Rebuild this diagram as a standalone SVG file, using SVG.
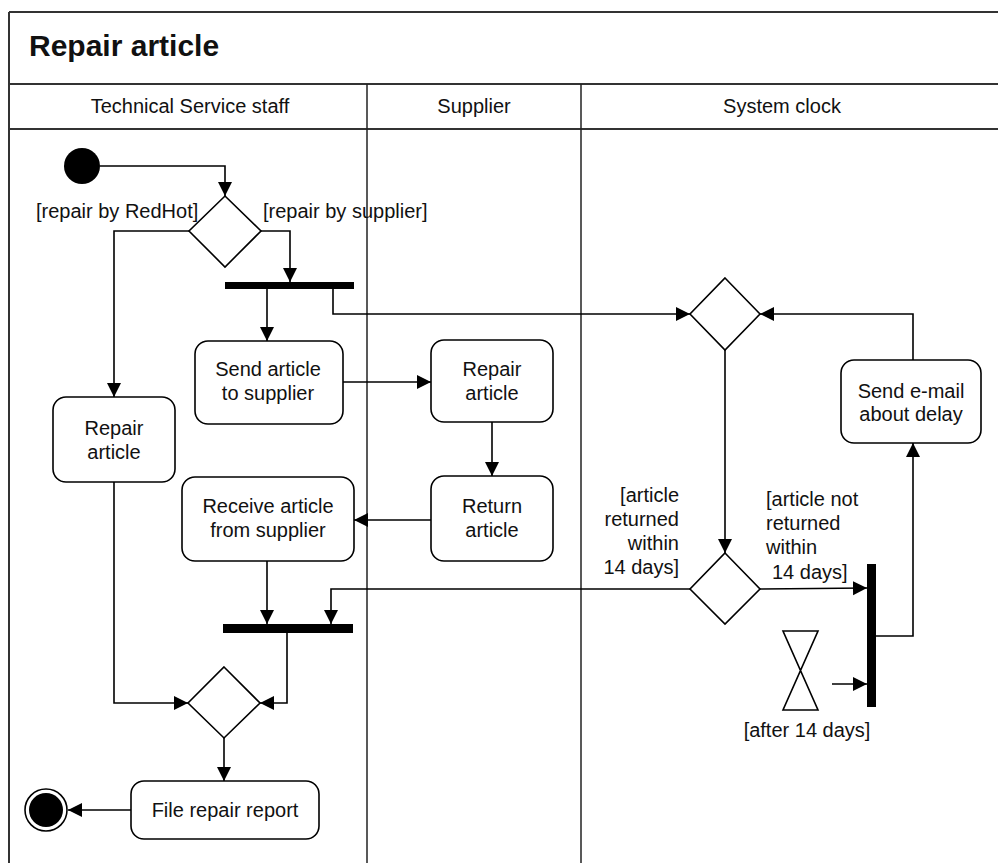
<svg xmlns="http://www.w3.org/2000/svg" width="998" height="863" viewBox="0 0 998 863">
<defs>
<marker id="arr" markerUnits="userSpaceOnUse" markerWidth="15" markerHeight="15" refX="14" refY="7" orient="auto">
<path d="M0,0 L14,7 L0,14 z" fill="#000"/>
</marker>
<style>
.frame{fill:none;stroke:#333;stroke-width:2}
.lane{fill:none;stroke:#222;stroke-width:1.5}
.act{fill:#fff;stroke:#000;stroke-width:1.6}
.dec{fill:#fff;stroke:#000;stroke-width:1.6}
.bar{fill:#000}
.edge{fill:none;stroke:#000;stroke-width:1.6}
.t{font-family:"Liberation Sans",Arial,sans-serif;font-size:20px;fill:#111}
.c{text-anchor:middle}
.title{font-family:"Liberation Sans",Arial,sans-serif;font-size:30px;font-weight:bold;fill:#111}
</style>
</defs>
<rect width="998" height="863" fill="#fff"/>
<g id="frame">
<line class="frame" x1="9" y1="12" x2="998" y2="12"/>
<line class="frame" x1="9" y1="12" x2="9" y2="863"/>
<line class="frame" x1="9" y1="84" x2="998" y2="84"/>
<line class="frame" x1="9" y1="129" x2="998" y2="129"/>
<line class="lane" x1="367" y1="84" x2="367" y2="863"/>
<line class="lane" x1="581" y1="84" x2="581" y2="863"/>
<text class="title" x="29" y="56">Repair article</text>
<text class="t c" x="190" y="113">Technical Service staff</text>
<text class="t c" x="474" y="113">Supplier</text>
<text class="t c" x="782" y="113">System clock</text>
</g>
<g id="connectors">
<path class="edge" d="M100,166 H225 V196" marker-end="url(#arr)"/>
<path class="edge" d="M189,231 H114 V397" marker-end="url(#arr)"/>
<path class="edge" d="M261,231 H290 V282" marker-end="url(#arr)"/>
<path class="edge" d="M267,289 V341" marker-end="url(#arr)"/>
<path class="edge" d="M333,289 V314 H690" marker-end="url(#arr)"/>
<path class="edge" d="M343,382 H431" marker-end="url(#arr)"/>
<path class="edge" d="M492,422 V476" marker-end="url(#arr)"/>
<path class="edge" d="M431,520 H354" marker-end="url(#arr)"/>
<path class="edge" d="M267,561 V624" marker-end="url(#arr)"/>
<path class="edge" d="M690,589 H331 V624" marker-end="url(#arr)"/>
<path class="edge" d="M287,633 V703 H260" marker-end="url(#arr)"/>
<path class="edge" d="M114,482 V703 H188" marker-end="url(#arr)"/>
<path class="edge" d="M224,738 V781" marker-end="url(#arr)"/>
<path class="edge" d="M131,810 H68" marker-end="url(#arr)"/>
<path class="edge" d="M725,350 V553" marker-end="url(#arr)"/>
<path class="edge" d="M760,589 L867,588" marker-end="url(#arr)"/>
<path class="edge" d="M832,684 H867" marker-end="url(#arr)"/>
<path class="edge" d="M876,636 H913 V443" marker-end="url(#arr)"/>
<path class="edge" d="M913,360 V314 H760" marker-end="url(#arr)"/>
</g>
<g id="start"><circle cx="82" cy="166" r="18" fill="#000"/></g>
<g id="decision1">
<polygon class="dec" points="225,196 261,231 225,267 189,231"/>
<text class="t" x="36" y="218">[repair by RedHot]</text>
<text class="t" x="263" y="218">[repair by supplier]</text>
</g>
<g id="fork1"><rect class="bar" x="225" y="282" width="129" height="7"/></g>
<g id="repairLocal">
<rect class="act" x="53" y="397" width="122" height="85" rx="13"/>
<text class="t c" x="114" y="435">Repair</text>
<text class="t c" x="114" y="459">article</text>
</g>
<g id="sendArticle">
<rect class="act" x="195" y="341" width="148" height="83" rx="13"/>
<text class="t c" x="268" y="376">Send article</text>
<text class="t c" x="268" y="400">to supplier</text>
</g>
<g id="repairSupplier">
<rect class="act" x="431" y="340" width="122" height="82" rx="13"/>
<text class="t c" x="492" y="376">Repair</text>
<text class="t c" x="492" y="400">article</text>
</g>
<g id="returnArticle">
<rect class="act" x="431" y="476" width="122" height="85" rx="13"/>
<text class="t c" x="492" y="513">Return</text>
<text class="t c" x="492" y="537">article</text>
</g>
<g id="receiveArticle">
<rect class="act" x="182" y="477" width="172" height="84" rx="13"/>
<text class="t c" x="268" y="513">Receive article</text>
<text class="t c" x="268" y="537">from supplier</text>
</g>
<g id="join"><rect class="bar" x="223" y="624" width="130" height="9"/></g>
<g id="merge"><polygon class="dec" points="224,667 260,703 224,738 188,703"/></g>
<g id="fileReport">
<rect class="act" x="131" y="781" width="188" height="58" rx="13"/>
<text class="t c" x="225" y="817">File repair report</text>
</g>
<g id="final">
<circle cx="46" cy="810" r="21" fill="#fff" stroke="#000" stroke-width="1.6"/>
<circle cx="46" cy="810" r="17" fill="#000"/>
</g>
<g id="decision2"><polygon class="dec" points="725,278 760,314 725,350 690,314"/></g>
<g id="sendEmail">
<rect class="act" x="841" y="360" width="140" height="83" rx="13"/>
<text class="t c" x="911" y="398">Send e-mail</text>
<text class="t c" x="911" y="421">about delay</text>
</g>
<g id="decision3">
<polygon class="dec" points="725,553 760,589 725,624 690,589"/>
<text class="t" text-anchor="end" x="679" y="502">[article</text>
<text class="t" text-anchor="end" x="679" y="526">returned</text>
<text class="t" text-anchor="end" x="679" y="550">within</text>
<text class="t" text-anchor="end" x="679" y="574">14 days]</text>
<text class="t" x="766" y="506">[article not</text>
<text class="t" x="766" y="530">returned</text>
<text class="t" x="766" y="554">within</text>
<text class="t" x="772" y="579">14 days]</text>
</g>
<g id="fork3"><rect class="bar" x="867" y="564" width="9" height="143"/></g>
<g id="timer">
<polygon points="783,631 818,631 783,710 818,710" fill="none" stroke="#000" stroke-width="1.6"/>
<text class="t c" x="807" y="737">[after 14 days]</text>
</g>
</svg>
